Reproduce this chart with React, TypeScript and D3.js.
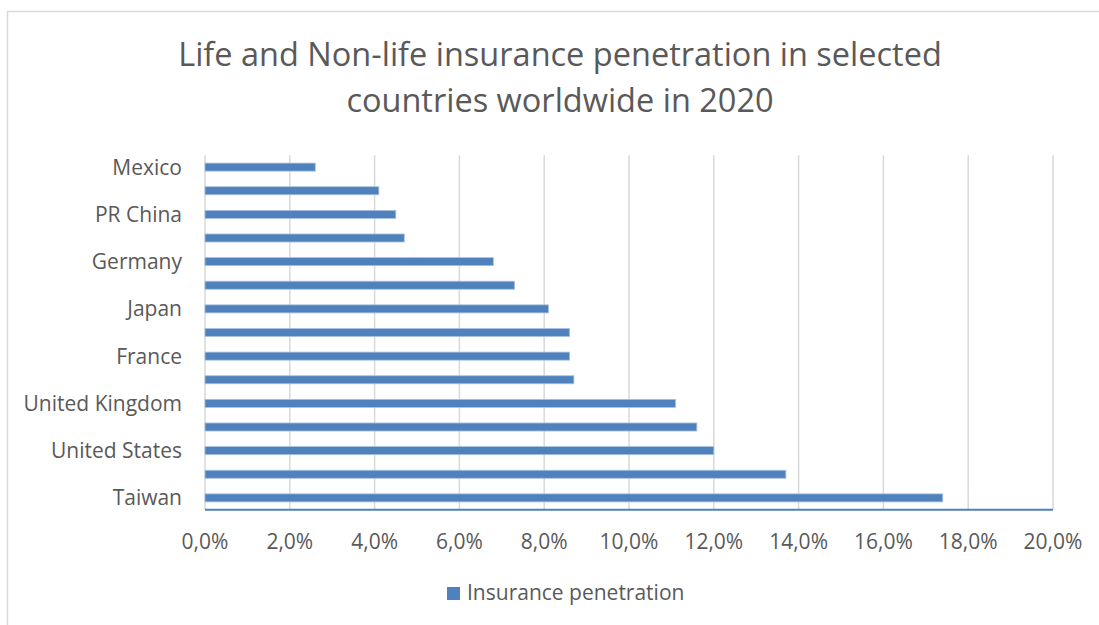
import React from "react";
import * as d3 from "d3";

const categories = [
  "Mexico",
  "Brazil",
  "PR China",
  "Australia",
  "Germany",
  "Canada",
  "Japan",
  "Italy",
  "France",
  "Netherlands",
  "United Kingdom",
  "Denmark",
  "United States",
  "South Africa",
  "Taiwan",
];
const values = [2.6, 4.1, 4.5, 4.7, 6.8, 7.3, 8.1, 8.6, 8.6, 8.7, 11.1, 11.6, 12.0, 13.7, 17.4];
const xTicks = [0, 2, 4, 6, 8, 10, 12, 14, 16, 18, 20];
const titleLines = ["Life and Non-life insurance penetration in selected", "countries worldwide in 2020"];
const seriesName = "Insurance penetration";

const W = 1099;
const H = 625;
const FONT = "'Open Sans', sans-serif";
const TEXT = "#595959";
const BLUE = "#4f81bd";
const GRID = "#d9d9d9";

const locale = d3.formatLocale({ decimal: ",", thousands: ".", grouping: [3], currency: ["", ""] });
const fmt = locale.format(".1f");

export default function App() {
  const x = d3.scaleLinear().domain([0, 20]).range([205, 1053]);
  const y = d3.scaleBand<string>().domain(categories).range([155.3, 509.7]).paddingInner(0.66).paddingOuter(0.33);

  return (
    <svg
      width={W}
      height={H}
      style={{ position: "absolute", left: 0, top: 0, background: "#fff" }}
      fontFamily={FONT}
    >
      <rect x={7.5} y={11.5} width={W + 10} height={H + 10} fill="#fff" stroke={GRID} strokeWidth={1.5} />
      {titleLines.map((t, i) => (
        <text key={i} x={560} y={66 + i * 46} textAnchor="middle" fontSize={32.5} fill={TEXT}>
          {t}
        </text>
      ))}
      {xTicks.map((t) => (
        <line key={"g" + t} x1={x(t)} x2={x(t)} y1={155.3} y2={509.7} stroke={GRID} strokeWidth={1.5} />
      ))}
      {categories.map((c, i) => (
        <rect
          key={c}
          x={x(0)}
          y={y(c)!}
          width={x(values[i]) - x(0)}
          height={y.bandwidth()}
          fill={BLUE}
          stroke="#a9c1e0"
          strokeWidth={0.8}
        />
      ))}
      <line x1={x(0)} x2={x(20)} y1={509.7} y2={509.7} stroke={BLUE} strokeWidth={2} />
      {categories.map((c, i) =>
        i % 2 === 0 ? (
          <text
            key={"l" + c}
            x={182}
            y={y(c)! + y.bandwidth() / 2}
            dy="0.36em"
            textAnchor="end"
            fontSize={21}
            fill={TEXT}
          >
            {c}
          </text>
        ) : null
      )}
      {xTicks.map((t) => (
        <text key={"t" + t} x={x(t)} y={549} textAnchor="middle" fontSize={21} fill={TEXT}>
          {fmt(t) + "%"}
        </text>
      ))}
      <rect x={447} y={587} width={13} height={13} fill={BLUE} />
      <text x={467} y={600} fontSize={21} fill={TEXT}>
        {seriesName}
      </text>
    </svg>
  );
}
